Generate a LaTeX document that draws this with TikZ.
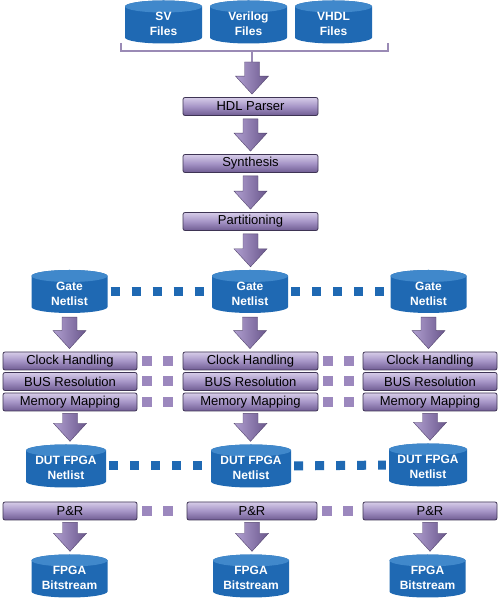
\documentclass[tikz,border=0pt]{standalone}
\usepackage{fontspec}
\setmainfont{Liberation Sans}
\usetikzlibrary{calc}
\definecolor{dbBody}{HTML}{1F69B3}
\definecolor{dbTop}{HTML}{4088CB}
\definecolor{pTop}{HTML}{D6CCE8}
\definecolor{pMid}{HTML}{A594C6}
\definecolor{pBot}{HTML}{6F5C92}
\definecolor{pLine}{HTML}{3E3454}
\definecolor{aLeft}{HTML}{B09FD0}
\definecolor{aRight}{HTML}{6A578C}
\definecolor{brk}{HTML}{9A8AB5}
\definecolor{pDot}{HTML}{9C88BE}
\tikzset{
  dbbody/.style={fill=dbBody},
  dbtop/.style={fill=dbTop},
  dbframe/.style={rectangle, inner sep=0pt, minimum height=43pt},
  dbtext/.style={align=center, text=white, font=\bfseries\fontsize{12}{15}\selectfont, inner sep=0pt},
  pbox/.style={rectangle, rounded corners=2pt, minimum height=18pt, inner sep=0pt,
    draw=pLine, line width=0.8pt, top color=pTop, bottom color=pBot, middle color=pMid,
    font=\fontsize{13}{14}\selectfont, text=black},
  bluedots/.style={draw=dbBody, line width=9pt, dash pattern=on 9pt off 12pt, shorten <=3pt, shorten >=3pt},
  purpdots/.style={draw=pDot, line width=10pt, dash pattern=on 10pt off 11pt, shorten <=5pt, shorten >=5pt},
  brack/.style={draw=brk, line width=1.2pt},
  arrowfill/.style={left color=aLeft, right color=aRight, draw=aRight!80!black, line width=0.4pt}
}
% cylinder: name, x, y, width, text
\newcommand\db[5]{%
  \begin{scope}[shift={(#2,#3)}]
    \pgfmathsetmacro\rx{#4/2}
    \fill[dbbody] (-\rx,15.5) -- (-\rx,-15.5) arc[start angle=180,end angle=360,x radius=\rx,y radius=6]
      -- (\rx,15.5) arc[start angle=0,end angle=180,x radius=\rx,y radius=6] -- cycle;
    \fill[dbtop] (0,15.5) ellipse[x radius=\rx,y radius=6];
  \end{scope}
  \node[dbframe, minimum width=#4pt] (#1) at (#2,#3) {};
  \node[dbtext] (#1-t) at (#2,#3-2) {#5};
}
% block arrow: from, to, start gap
\newcommand\barrow[3]{%
  \path[arrowfill] let \p1=(#1), \p2=(#2) in
    (\x1-7.5pt,\y1-#3) -- (\x1+7.5pt,\y1-#3) -- (\x1+7.5pt,\y2+21pt) -- (\x1+16.5pt,\y2+21pt)
    -- (\x1,\y2+3pt) -- (\x1-16.5pt,\y2+21pt) -- (\x1-7.5pt,\y2+21pt) -- cycle;
}
\begin{document}
\begin{tikzpicture}[x=1pt,y=1pt]
\useasboundingbox[fill=white] (0,0) rectangle (500,605);

% top files
\db{sv}{163.5}{583}{77}{SV\\Files}
\db{ver}{248.5}{583}{77}{Verilog\\Files}
\db{vhdl}{333.5}{583}{77}{VHDL\\Files}

% bracket
\coordinate (brL) at (121,562);
\coordinate (brLb) at (121,554);
\coordinate (brRb) at (388,554);
\coordinate (brR) at (388,562);
\coordinate (brM) at (252,554);
\coordinate (brC) at (252,543);
\draw[brack] (brL) -- (brLb) -- (brRb) -- (brR);
\draw[brack] (brM) -- (brC);

% central flow
\node[pbox, minimum width=135pt] (hdl) at (250.5,498.5) {HDL Parser};
\node[pbox, minimum width=135pt] (syn) at (250.5,441.5) {Synthesis};
\node[pbox, minimum width=135pt] (part) at (250.5,383.5) {Partitioning};

% gate netlists
\db{g1}{69.5}{313.5}{76}{Gate\\Netlist}
\db{g2}{250}{313.5}{76}{Gate\\Netlist}
\db{g3}{428.5}{313.5}{76}{Gate\\Netlist}
\draw[bluedots] (g1.east) -- (g2.west);
\draw[bluedots] (g2.east) -- (g3.west);

% stacks
\foreach \n/\x/\w in {1/70/134, 2/250.5/135, 3/430/134}{
  \node[pbox, minimum width=\w pt] (clk\n) at (\x,244) {Clock Handling};
  \node[pbox, minimum width=\w pt] (bus\n) at (\x,223.5) {BUS Resolution};
  \node[pbox, minimum width=\w pt] (mem\n) at (\x,203) {Memory Mapping};
}
\draw[purpdots] (clk1.east) -- (clk2.west);
\draw[purpdots] (clk2.east) -- (clk3.west);
\draw[purpdots] (bus1.east) -- (bus2.west);
\draw[purpdots] (bus2.east) -- (bus3.west);
\draw[purpdots] (mem1.east) -- (mem2.west);
\draw[purpdots] (mem2.east) -- (mem3.west);

% DUT netlists
\db{d1}{66}{139}{80}{DUT FPGA\\Netlist}
\db{d2}{251}{139}{80}{DUT FPGA\\Netlist}
\db{d3}{428}{140}{78}{DUT FPGA\\Netlist}
\draw[bluedots] (d1.east) -- (d2.west);
\draw[bluedots] (d2.east) -- (d3.west);

% P&R
\node[pbox, minimum width=134pt] (pr1) at (70,94) {P\&R};
\node[pbox, minimum width=130pt] (pr2) at (252,94) {P\&R};
\node[pbox, minimum width=134pt] (pr3) at (430,94) {P\&R};
\draw[purpdots] (pr1.east) -- (pr2.west);
\draw[purpdots] (pr2.east) -- (pr3.west);

% bitstreams
\db{b1}{69.5}{29}{76}{FPGA\\Bitstream}
\db{b2}{251}{29}{76}{FPGA\\Bitstream}
\db{b3}{427.5}{29}{76}{FPGA\\Bitstream}

% arrows
\barrow{brC}{hdl.north}{0pt}
\barrow{hdl.south}{syn.north}{3pt}
\barrow{syn.south}{part.north}{3pt}
\barrow{part.south}{g2.north}{3pt}
\barrow{g1.south}{clk1.north}{4pt}
\barrow{g2.south}{clk2.north}{4pt}
\barrow{g3.south}{clk3.north}{4pt}
\barrow{mem1.south}{d1.north}{2pt}
\barrow{mem2.south}{d2.north}{2pt}
\barrow{mem3.south}{d3.north}{2pt}
\barrow{pr1.south}{b1.north}{2pt}
\barrow{pr2.south}{b2.north}{2pt}
\barrow{pr3.south}{b3.north}{2pt}
\end{tikzpicture}
\end{document}
